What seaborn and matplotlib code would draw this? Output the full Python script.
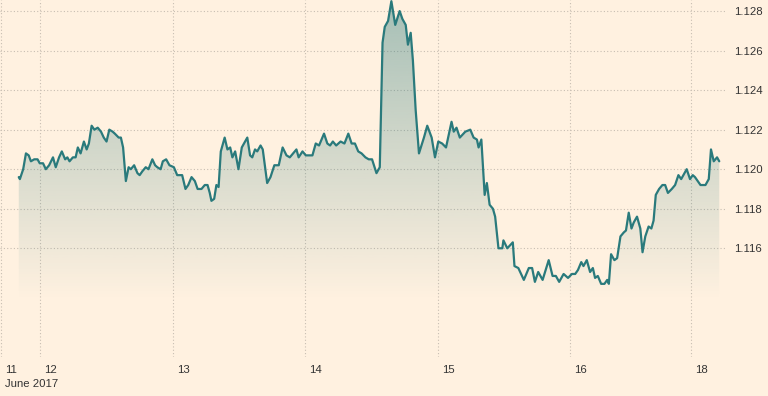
import numpy as np
import pandas as pd
import matplotlib.pyplot as plt
import matplotlib.colors as mcolors
import matplotlib.transforms as mtransforms
import seaborn as sns

# hours of trading time from midnight 12 June 2017 (weekend squeezed out)
hours = [-3.9, -3.7, -3.1, -2.6, -2.1, -1.7, -1.1, -0.5, -0.1, 0.5,
         1.0, 1.6, 2.3, 2.8, 3.4, 3.9, 4.5, 4.9, 5.3, 5.9,
         6.4, 6.8, 7.3, 7.9, 8.4, 8.8, 9.3, 9.8, 10.4, 11.0,
         11.5, 12.0, 12.5, 13.1, 13.5, 14.2, 14.6, 15.0, 15.5, 16.0,
         16.4, 17.0, 17.6, 18.0, 18.5, 19.1, 19.6, 20.3, 20.8, 21.2,
         21.8, 22.2, 22.8, 23.4, 24.2, 24.8, 25.7, 26.3, 26.8, 27.4,
         28.0, 28.5, 29.2, 29.8, 30.3, 30.7, 31.0, 31.5, 31.9, 32.3,
         32.7, 33.0, 33.4, 33.9, 34.4, 34.8, 35.3, 35.9, 36.5, 36.9,
         37.5, 38.0, 38.4, 38.9, 39.3, 39.9, 40.3, 41.1, 41.7, 42.4,
         43.2, 43.9, 44.6, 45.2, 45.8, 46.4, 46.8, 47.5, 48.1, 49.3,
         49.9, 50.5, 51.4, 52.0, 52.5, 53.0, 53.6, 54.4, 55.1, 55.8,
         56.4, 57.0, 57.6, 58.2, 58.9, 59.5, 60.1, 60.9, 61.5, 62.0,
         62.4, 63.0, 63.6, 64.3, 65.1, 65.6, 66.2, 66.6, 67.1, 67.5,
         68.0, 68.6, 69.5, 70.1, 70.9, 71.5, 72.1, 72.8, 73.5, 74.5,
         74.9, 75.4, 76.0, 77.0, 77.9, 78.5, 79.1, 79.4, 79.9, 80.5,
         80.9, 81.4, 82.0, 82.4, 83.0, 83.7, 83.9, 84.6, 85.6, 85.9,
         86.6, 87.6, 88.5, 89.1, 89.6, 90.2, 91.0, 92.1, 92.8, 93.4,
         94.0, 94.8, 95.6, 96.3, 96.9, 97.4, 98.0, 98.4, 99.0, 99.6,
         100.1, 100.5, 101.0, 101.6, 102.2, 102.7, 103.0, 103.4, 104.0, 104.5,
         105.1, 105.7, 106.1, 106.6, 107.1, 107.5, 108.1, 108.7, 109.1, 109.6,
         110.2, 110.7, 111.1, 111.5, 112.1, 112.7, 113.2, 113.7, 114.4, 115.0,
         115.6, 116.1, 116.5, 117.1, 117.7, 118.2, 118.6, 119.6, 120.5, 121.1,
         121.5, 122.0, 122.6, 123.0]

rate = [1.1196, 1.1195, 1.1200, 1.1208, 1.1207, 1.1204, 1.1205, 1.1205, 1.1203, 1.1203,
        1.1200, 1.1202, 1.1206, 1.1201, 1.1206, 1.1209, 1.1205, 1.1206, 1.1204, 1.1206,
        1.1206, 1.1211, 1.1208, 1.1214, 1.1210, 1.1213, 1.1222, 1.1220, 1.1221, 1.1219,
        1.1216, 1.1214, 1.1220, 1.1219, 1.1218, 1.1216, 1.1216, 1.1211, 1.1194, 1.1201,
        1.1200, 1.1202, 1.1198, 1.1197, 1.1199, 1.1201, 1.1200, 1.1205, 1.1202, 1.1201,
        1.1200, 1.1204, 1.1205, 1.1202, 1.1201, 1.1197, 1.1197, 1.1190, 1.1192, 1.1196,
        1.1194, 1.1190, 1.1190, 1.1192, 1.1192, 1.1188, 1.1184, 1.1185, 1.1192, 1.1191,
        1.1209, 1.1212, 1.1216, 1.1210, 1.1211, 1.1206, 1.1209, 1.1200, 1.1211, 1.1213,
        1.1216, 1.1207, 1.1206, 1.1210, 1.1209, 1.1212, 1.1210, 1.1193, 1.1196, 1.1202,
        1.1202, 1.1211, 1.1207, 1.1206, 1.1208, 1.1210, 1.1206, 1.1209, 1.1207, 1.1207,
        1.1213, 1.1212, 1.1218, 1.1213, 1.1212, 1.1214, 1.1212, 1.1214, 1.1213, 1.1218,
        1.1213, 1.1213, 1.1209, 1.1208, 1.1206, 1.1205, 1.1205, 1.1198, 1.1201, 1.1264,
        1.1272, 1.1275, 1.1285, 1.1273, 1.1280, 1.1276, 1.1273, 1.1263, 1.1269, 1.1255,
        1.1230, 1.1208, 1.1216, 1.1222, 1.1216, 1.1206, 1.1214, 1.1213, 1.1211, 1.1224,
        1.1219, 1.1221, 1.1216, 1.1219, 1.1220, 1.1216, 1.1215, 1.1211, 1.1215, 1.1187,
        1.1193, 1.1182, 1.1180, 1.1176, 1.1160, 1.1160, 1.1164, 1.1160, 1.1163, 1.1151,
        1.1150, 1.1144, 1.1150, 1.1150, 1.1143, 1.1148, 1.1144, 1.1154, 1.1146, 1.1146,
        1.1143, 1.1147, 1.1145, 1.1147, 1.1147, 1.1149, 1.1153, 1.1151, 1.1154, 1.1148,
        1.1150, 1.1145, 1.1146, 1.1142, 1.1142, 1.1144, 1.1142, 1.1157, 1.1154, 1.1155,
        1.1166, 1.1168, 1.1169, 1.1178, 1.1170, 1.1173, 1.1176, 1.1170, 1.1158, 1.1166,
        1.1171, 1.1170, 1.1174, 1.1187, 1.1190, 1.1192, 1.1192, 1.1188, 1.1190, 1.1192,
        1.1197, 1.1195, 1.1197, 1.1200, 1.1195, 1.1197, 1.1196, 1.1192, 1.1192, 1.1195,
        1.1210, 1.1204, 1.1206, 1.1204]

day_ticks = [-7.15, 0, 24, 48, 72, 96, 117.9]
day_labels = ['11', '12', '13', '14', '15', '16', '18']
month_label = 'June 2017'
rate_ticks = [1.116, 1.118, 1.120, 1.122, 1.124, 1.126, 1.128]

bg = '#fff1e0'
teal = '#2a7a7c'
grid_col = '#c8beb2'

sns.set_style('white', {'axes.facecolor': bg, 'figure.facecolor': bg})
plt.rcParams['font.family'] = ['Liberation Sans', 'DejaVu Sans']

df = pd.DataFrame({'hours': hours, 'rate': rate})

fig = plt.figure(figsize=(7.68, 3.96), dpi=100)
ax = fig.add_axes([0, 0.0985, 0.9466, 0.9015])

x0, x1 = -7.3, 124.4
y0, y1 = 1.1105, 1.12856

# gradient under the line, fading out towards the bottom
area = ax.fill_between(df['hours'], df['rate'], y0, facecolor='none', edgecolor='none')
grad = np.zeros((256, 1, 4))
grad[..., :3] = mcolors.to_rgb(teal)
grad[:, 0, 3] = np.linspace(0.42, 0.0, 256)
img = ax.imshow(grad, extent=[x0, x1, 1.1134, y1], origin='upper', aspect='auto', zorder=1)
img.set_clip_path(area.get_paths()[0], transform=ax.transData)

sns.lineplot(data=df, x='hours', y='rate', color=teal, lw=1.6, ax=ax, zorder=3)

ax.set_xlim(x0, x1)
ax.set_ylim(y0, y1)
ax.set_xlabel('')
ax.set_ylabel('')

ax.yaxis.tick_right()
ax.set_yticks(rate_ticks)
ax.set_yticklabels([f'{t:.3f}' for t in rate_ticks])
ax.tick_params(axis='y', length=0, pad=5, labelsize=8.2, labelcolor='#333333')

ax.set_xticks(day_ticks)
ax.set_xticklabels(day_labels)
ax.tick_params(axis='x', length=4.5, width=1, color='#cfc5b8', pad=1.5,
               labelsize=8.2, labelcolor='#333333')
shift = mtransforms.ScaledTranslation(4 / 100, 0, fig.dpi_scale_trans)
for lbl in ax.get_xticklabels():
    lbl.set_horizontalalignment('left')
    lbl.set_transform(lbl.get_transform() + shift)

# month under the first day label
fig.text(5 / 768, 1 - 384 / 396, month_label, ha='left', va='center',
         fontsize=8.2, color='#333333')

ax.grid(True, color=grid_col, linestyle=(0, (1, 2)), lw=0.8, zorder=0)
ax.set_axisbelow(True)
sns.despine(ax=ax, left=True, bottom=True, right=True, top=True)

fig.savefig('out.png', dpi=100, facecolor=bg)
